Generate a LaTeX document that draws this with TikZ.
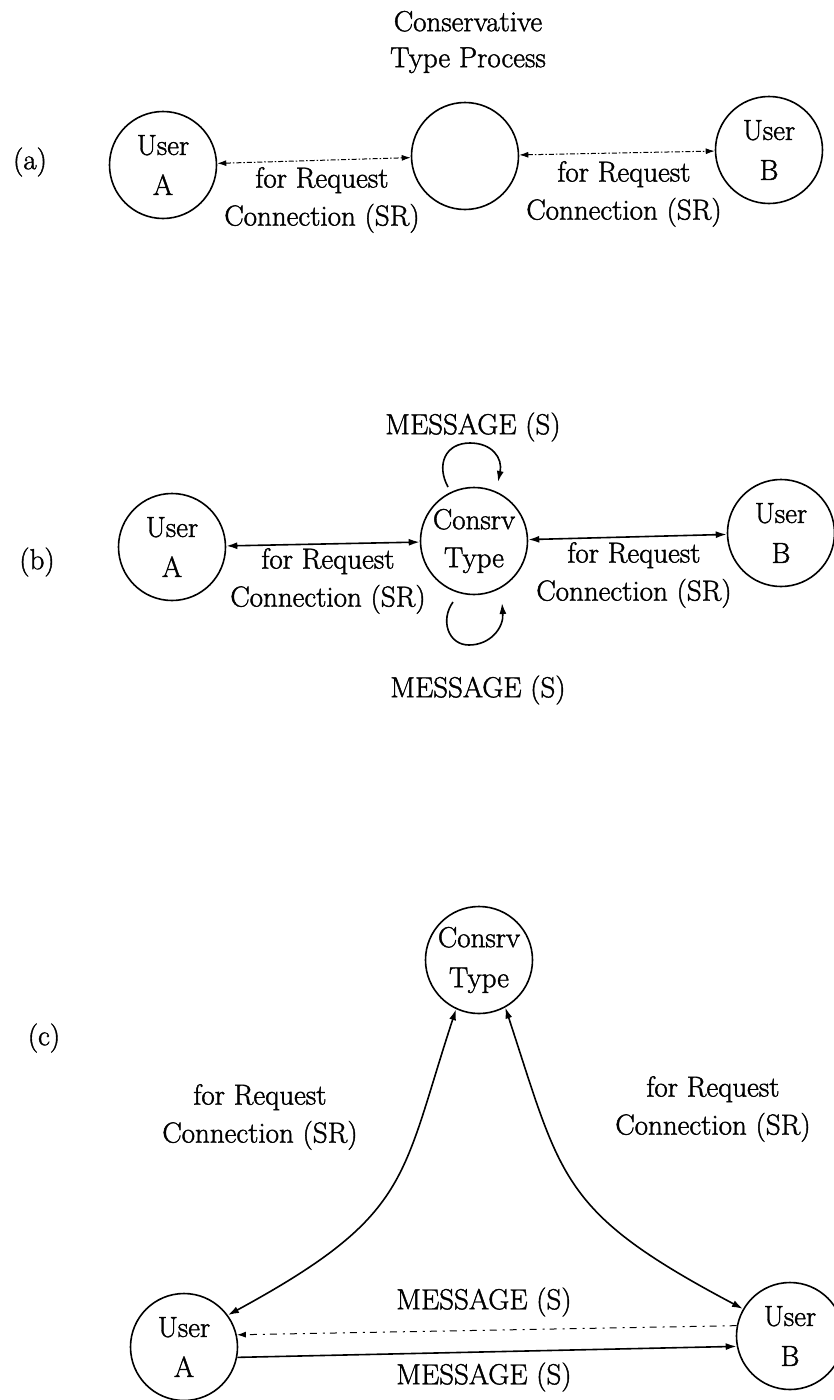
\documentclass[tikz,border=0pt]{standalone}
\usepackage{fontspec}
\setmainfont{Latin Modern Roman}[FakeBold=1.4]
\usetikzlibrary{arrows.meta}

\tikzset{
  txt/.style={align=center,inner sep=0pt,font=\fontsize{29}{38}\selectfont},
  proc/.style={draw,circle,line width=1.6pt,minimum size=107pt,inner sep=0pt,
               align=center,font=\fontsize{29}{40}\selectfont},
  link/.style={line width=1.6pt,{Latex[length=11pt,width=7pt]}-{Latex[length=11pt,width=7pt]}},
  weaklink/.style={line width=1pt,dash pattern=on 5pt off 2pt on 1.5pt off 2pt,
                   {Latex[length=9pt,width=6pt]}-{Latex[length=9pt,width=6pt]}},
  oneway/.style={line width=1.6pt,-{Latex[length=11pt,width=7pt]}},
  faint/.style={line width=1pt,dash pattern=on 7pt off 5pt on 2pt off 6pt,
                -{Latex[length=9pt,width=6pt]}},
}

\begin{document}
\begin{tikzpicture}[x=1pt,y=-1pt]
\useasboundingbox (0,0) rectangle (834,1400);

% ---------- (a) ----------
\node[txt,font=\fontsize{29}{36}\selectfont] (title) at (468,42) {Conservative\\Type Process};
\node[txt] (la) at (30,162) {(a)};
\node[proc] (uaA) at (163,165) {User\\A};
\node[proc] (mA)  at (465,156) {};
\node[proc] (ubA) at (769,150) {User\\B};
\draw[weaklink] (uaA) -- (mA);
\draw[weaklink] (mA) -- (ubA);
\node[txt] (ta1) at (322,200) {for Request\\Connection (SR)};
\node[txt] (ta2) at (624,194) {for Request\\Connection (SR)};

% ---------- (b) ----------
\node[txt] (lb) at (37,562) {(b)};
\node[proc] (uaB) at (172,547) {User\\A};
\node[proc,font=\fontsize{29}{38}\selectfont] (cB) at (474,541) {Consrv\\Type};
\node[proc] (ubB) at (781,533) {User\\B};
\draw[link] (uaB) -- (cB);
\draw[link] (cB) -- (ubB);
\node[txt] (tb1) at (328,581) {for Request\\Connection (SR)};
\node[txt] (tb2) at (634,575) {for Request\\Connection (SR)};
\node[txt] (mb1) at (473,427) {MESSAGE (S)};
\node[txt] (mb2) at (478,690) {MESSAGE (S)};
% self loops above and below the process
\coordinate (lt1) at ([shift={(-26,-54)}]cB.center);
\coordinate (lt2) at ([shift={(24,-59)}]cB.center);
\coordinate (lb1) at ([shift={(-21,61)}]cB.center);
\coordinate (lb2) at ([shift={(28,62)}]cB.center);
\draw[oneway] (lt1) .. controls (436,465) and (445,443) .. (470,443)
              .. controls (492,443) and (503,458) .. (lt2);
\draw[oneway] (lb1) .. controls (440,620) and (448,645) .. (469,645)
              .. controls (490,645) and (504,628) .. (lb2);

% ---------- (c) ----------
\node[txt] (lc) at (44,1038) {(c)};
\node[proc,font=\fontsize{29}{40}\selectfont] (cC) at (479,960) {Consrv\\Type};
\node[proc] (uaC) at (184,1347) {User\\A};
\node[proc] (ubC) at (790,1336) {User\\B};
\draw[link] (uaC.36) .. controls (412,1215) and (400,1180) .. (cC.245);
\draw[link] (cC.299) .. controls (562,1180) and (560,1212) .. (ubC.150);
\node[txt] (tc1) at (260,1117) {for Request\\Connection (SR)};
\node[txt] (tc2) at (713,1109) {for Request\\Connection (SR)};
\draw[faint] (ubC.169) -- (uaC.13);
\draw[oneway] (uaC.349) -- (ubC.191);
\node[txt] (mc1) at (484,1302) {MESSAGE (S)};
\node[txt] (mc2) at (484,1377) {MESSAGE (S)};
\end{tikzpicture}
\end{document}
